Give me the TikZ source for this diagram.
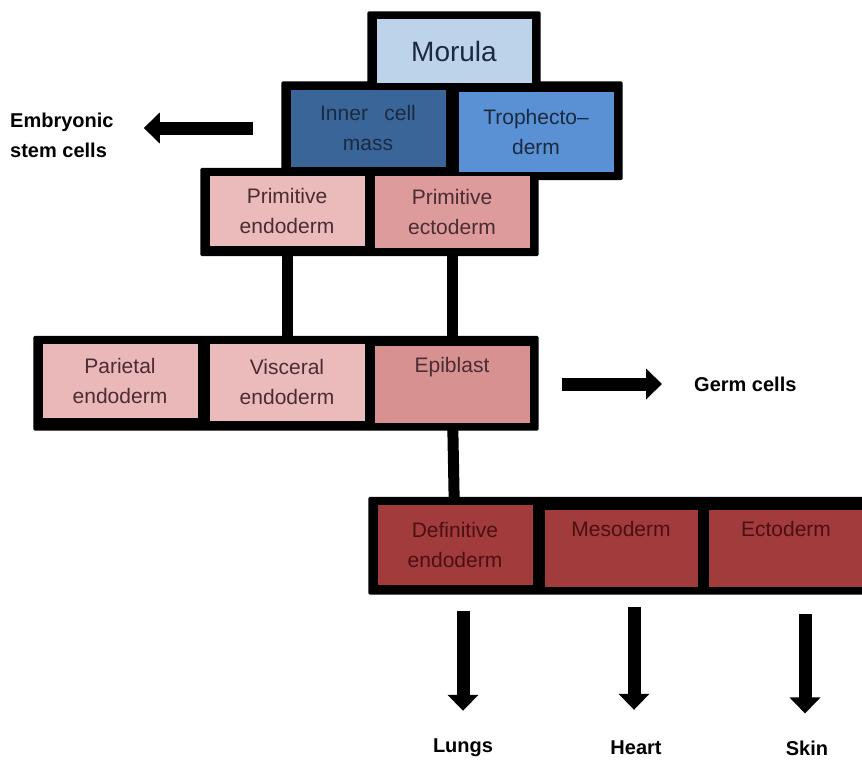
\documentclass[tikz,border=0pt]{standalone}
\usepackage{fontspec}
\setmainfont{Liberation Sans}
\usetikzlibrary{arrows.meta,fit,backgrounds}

\definecolor{morulablue}{HTML}{BDD3EA}
\definecolor{icmblue}{HTML}{3A6598}
\definecolor{trophblue}{HTML}{5A90D4}
\definecolor{palepink}{HTML}{EBBABA}
\definecolor{midpink}{HTML}{DE9B9B}
\definecolor{darkred}{HTML}{A23B3B}
\definecolor{pinktext}{HTML}{4A2C33}
\definecolor{bluetext}{HTML}{1B2A40}
\definecolor{redtext}{HTML}{4A1012}

\tikzset{
	cell/.style={rectangle, inner sep=0pt, align=center,
		minimum width=155pt, minimum height=77pt,
		font=\fontsize{21}{30}\selectfont},
	pinkcell/.style={cell, text=pinktext},
	redcell/.style={cell, fill=darkred, text=redtext},
	frame/.style={fill=black, inner xsep=9pt, inner ysep=8pt, rounded corners=1.5pt},
	link/.style={line width=11pt},
	bigarrow/.style={line width=13pt, -{Triangle[length=16pt, width=30pt]}},
	outtext/.style={inner sep=0pt, font=\bfseries\fontsize{20}{30}\selectfont}
}

\begin{document}
\begin{tikzpicture}[x=1pt, y=-1pt]

	\useasboundingbox (0,0) rectangle (862,760);

% cell boxes
	\node[cell, fill=morulablue, text=bluetext, minimum height=63pt,
		font=\fontsize{28}{30}\selectfont] (morula) at (454,51) {Morula};

	\node[cell, fill=icmblue, text=bluetext] (icm) at (368,128) {Inner\hspace{0.5em} cell\\mass};
	\node[cell, fill=trophblue, text=bluetext, minimum height=80pt] (troph) at (536,132) {Trophecto--\\derm};

	\node[pinkcell, fill=palepink, minimum height=70pt] (pendo) at (287,211) {Primitive\\endoderm};
	\node[pinkcell, fill=midpink, minimum height=72pt] (pecto) at (452,212) {Primitive\\ectoderm};

	\node[pinkcell, fill=palepink!95!midpink, minimum height=74pt] (pariet) at (120,381) {Parietal\\endoderm};
	\node[pinkcell, fill=palepink] (visc) at (287,382) {Visceral\\endoderm};
	\node[pinkcell, fill=midpink!90!darkred] (epi) at (452,384) {Epiblast\\\strut};

	\node[redcell, minimum height=80pt] (defendo) at (455,545) {Definitive\\endoderm};
	\node[redcell, minimum width=153pt] (meso) at (621,548) {Mesoderm\\\strut};
	\node[redcell] (ecto) at (786,548) {Ectoderm\\\strut};

% black frames and links
	\begin{scope}[on background layer]
		\node[frame, fit=(morula)] (fmorula) {};
		\node[frame, fit=(icm) (troph)] (fblast) {};
		\node[frame, fit=(pendo) (pecto)] (fprim) {};
		\node[frame, fit=(pariet) (epi)] (fendo) {};
		\node[frame, fit=(defendo) (ecto)] (fgerm) {};

		\draw[link] (pendo) -- (visc);
		\draw[link] (pecto) -- (epi);
		\draw[link] (epi) -- (defendo);
	\end{scope}

% side outputs
	\node[outtext, anchor=west, align=left] (esc) at (10,135) {Embryonic\\stem cells};
	\coordinate (escfrom) at (253,128);
	\draw[bigarrow, shorten >=30pt] (escfrom) -- (esc.east |- escfrom);

	\node[outtext, anchor=west] (germ) at (694,384) {Germ cells};
	\coordinate (germfrom) at (562,384);
	\draw[bigarrow, shorten >=32pt] (germfrom) -- (germ.west);

% organs
	\node[outtext] (lungs) at (463,748) {Lungs};
	\node[outtext] (heart) at (636,748) {Heart};
	\node[outtext] (skin) at (807,748) {Skin};

	\coordinate (lungsfrom) at (463,611);
	\coordinate (heartfrom) at (634,607);
	\coordinate (skinfrom) at (805,614);

	\draw[bigarrow, shorten >=28pt] (lungsfrom) -- (lungsfrom |- lungs.north);
	\draw[bigarrow, shorten >=31pt] (heartfrom) -- (heartfrom |- heart.north);
	\draw[bigarrow, shorten >=27pt] (skinfrom) -- (skinfrom |- skin.north);

\end{tikzpicture}
\end{document}
